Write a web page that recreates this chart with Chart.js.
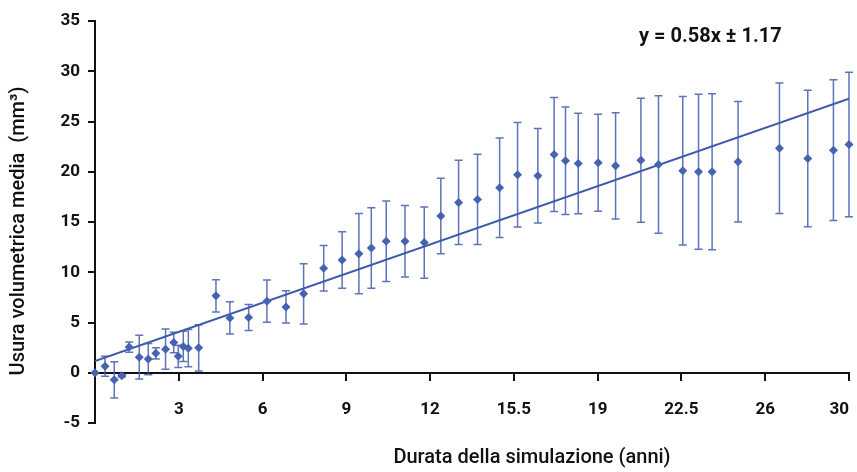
<!DOCTYPE html>
<html>
<head>
<meta charset="utf-8">
<script src="https://cdn.jsdelivr.net/npm/chart.js@4/dist/chart.umd.min.js"></script>
<style>
  html, body { margin: 0; padding: 0; background: #fff; }
</style>
</head>
<body>
<canvas id="chart" width="857" height="472"></canvas>
<script>
// x is the position along the axis (0..45, one tick every 5), y is mean wear in mm3
const pointX = [0, 0.6, 1.15, 1.6, 2.04, 2.64, 3.18, 3.63, 4.21, 4.7, 4.97, 5.27, 5.57, 6.19,
  7.22, 8.05, 9.17, 10.26, 11.4, 12.45, 13.65, 14.75, 15.75, 16.49, 17.38, 18.5, 19.65,
  20.64, 21.7, 22.83, 24.15, 25.22, 26.43, 27.4, 28.08, 28.84, 30.03, 31.07, 32.58, 33.63,
  35.08, 36.02, 36.83, 38.38, 40.85, 42.54, 44.07, 45.0];
const pointY = [0, 0.65, -0.7, -0.3, 2.55, 1.55, 1.36, 1.93, 2.35, 3.02, 1.63, 2.62, 2.45, 2.48,
  7.65, 5.46, 5.5, 7.12, 6.55, 7.85, 10.4, 11.22, 11.85, 12.41, 13.08, 13.08, 12.95,
  15.6, 16.95, 17.25, 18.41, 19.7, 19.6, 21.72, 21.09, 20.82, 20.89, 20.59, 21.15, 20.72,
  20.1, 20.0, 20.0, 20.99, 22.34, 21.32, 22.15, 22.71];
const pointErr = [0, 1.0, 1.8, 0.12, 0.5, 2.17, 1.56, 0.55, 2.0, 1.02, 1.1, 1.5, 1.85, 2.3,
  1.6, 1.6, 1.3, 2.1, 1.6, 3.0, 2.27, 2.8, 4.0, 4.0, 4.0, 3.55, 3.55,
  3.75, 4.2, 4.5, 4.95, 5.2, 4.7, 5.67, 5.35, 5.0, 4.83, 5.28, 6.17, 6.85,
  7.4, 7.7, 7.75, 6.0, 6.5, 6.8, 7.0, 7.2];

const xTickLabels = ['3', '6', '9', '12', '15.5', '19', '22.5', '26', '30'];
const trendX = [0, 45];
const trendY = [1.17, 27.27];
const equation = 'y = 0.58x \u00b1 1.17';

const FONT = 'Roboto';
const BLUE = '#4563b0';

const errorBars = {
  id: 'errorBars',
  beforeDatasetsDraw(chart) {
    const { ctx, scales: { x, y } } = chart;
    ctx.save();
    ctx.strokeStyle = 'rgba(66, 92, 172, 0.85)';
    ctx.lineWidth = 1.5;
    pointX.forEach((xv, i) => {
      if (!pointErr[i]) return;
      const px = x.getPixelForValue(xv);
      const top = y.getPixelForValue(pointY[i] + pointErr[i]);
      const bot = y.getPixelForValue(pointY[i] - pointErr[i]);
      ctx.beginPath();
      ctx.moveTo(px, top); ctx.lineTo(px, bot);
      ctx.moveTo(px - 4, top); ctx.lineTo(px + 4, top);
      ctx.moveTo(px - 4, bot); ctx.lineTo(px + 4, bot);
      ctx.stroke();
    });
    ctx.restore();
  }
};

const texts = {
  id: 'texts',
  afterDraw(chart) {
    const ctx = chart.ctx;
    ctx.save();
    ctx.fillStyle = '#111';
    ctx.textBaseline = 'middle';
    ctx.textAlign = 'center';
    ctx.font = '500 20px ' + FONT;
    ctx.fillText('Durata della simulazione (anni)', 532, 458);
    ctx.font = 'bold 20px ' + FONT;
    ctx.textAlign = 'left';
    ctx.fillText(equation, 639, 37);
    ctx.translate(19, 231);
    ctx.rotate(-Math.PI / 2);
    ctx.textAlign = 'center';
    ctx.font = '500 20px ' + FONT;
    ctx.fillText('Usura volumetrica media  (mm\u00b3)', 0, 0);
    ctx.restore();
  }
};

new Chart(document.getElementById('chart'), {
  type: 'scatter',
  data: {
    datasets: [
      {
        label: 'Usura',
        data: pointX.map((xv, i) => ({ x: xv, y: pointY[i] })),
        pointStyle: 'rectRot',
        pointRadius: 4.5,
        backgroundColor: BLUE,
        borderColor: BLUE,
        borderWidth: 0,
        clip: false,
        order: 1,
      },
      {
        label: 'Tendenza',
        type: 'line',
        data: trendX.map((xv, i) => ({ x: xv, y: trendY[i] })),
        borderColor: '#3d5aa9',
        borderWidth: 2,
        pointRadius: 0,
        fill: false,
        order: 2,
      },
    ],
  },
  options: {
    responsive: false,
    animation: false,
    layout: { padding: { top: 21, bottom: 49, right: 8, left: 0 } },
    plugins: {
      legend: { display: false },
      tooltip: { enabled: false },
    },
    scales: {
      x: {
        type: 'linear',
        position: { y: 0 },
        min: 0,
        max: 45,
        afterFit: (scale) => { scale.paddingLeft = 0; scale.paddingRight = 0; },
        border: { color: '#111', width: 2 },
        grid: { drawOnChartArea: false, tickLength: 7, color: '#111', lineWidth: 2 },
        ticks: {
          stepSize: 5,
          padding: 20,
          align: 'inner',
          color: '#111',
          font: { family: FONT, size: 17, weight: 'bold' },
          maxRotation: 0,
          callback: (v) => (v === 0 ? '' : xTickLabels[v / 5 - 1]),
        },
      },
      y: {
        min: -5,
        max: 35,
        afterFit: (scale) => { scale.width = 95; },
        border: { color: '#111', width: 2 },
        grid: { drawOnChartArea: false, tickLength: 7, color: '#111', lineWidth: 2 },
        ticks: {
          stepSize: 5,
          padding: 8,
          color: '#111',
          font: { family: FONT, size: 17, weight: 'bold' },
        },
      },
    },
  },
  plugins: [errorBars, texts],
});
</script>
</body>
</html>
